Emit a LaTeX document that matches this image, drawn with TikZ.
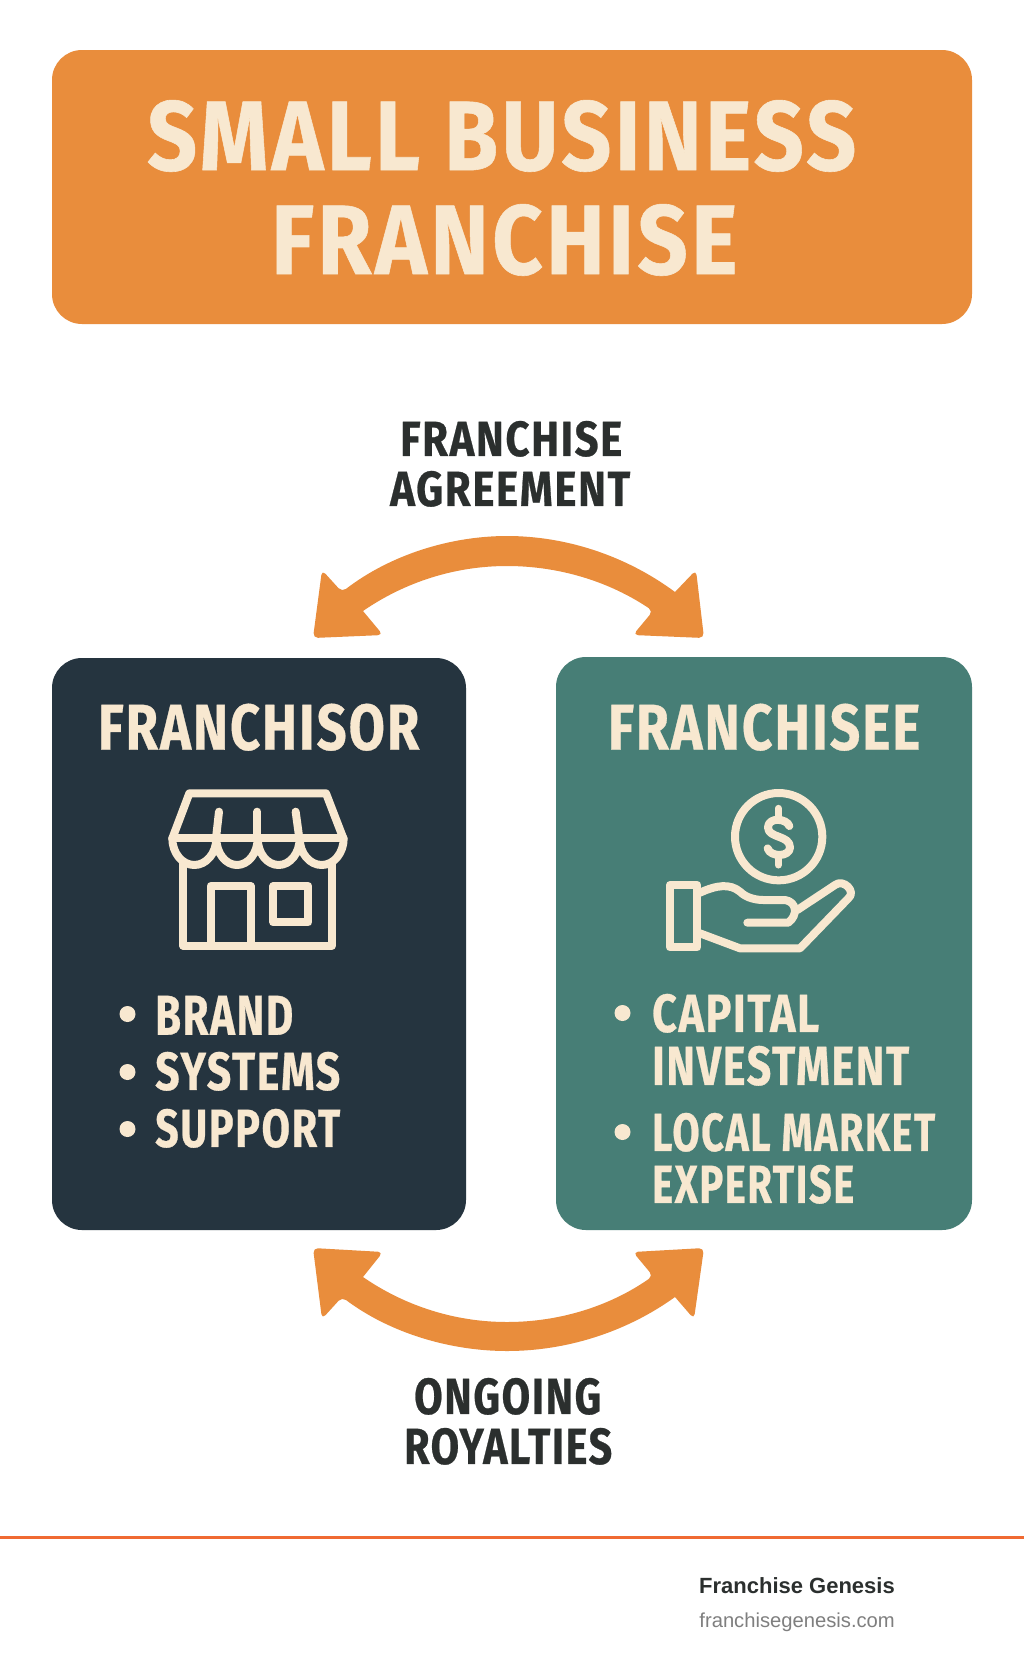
\documentclass[tikz,border=0pt]{standalone}
\usepackage{graphicx}
\usepackage{fontspec}
\setmainfont{Fira Sans}
\newfontfamily\footfont{Liberation Sans}
\definecolor{orangebox}{HTML}{E98D3C}
\definecolor{cream}{HTML}{F8E8D0}
\definecolor{navy}{HTML}{25343F}
\definecolor{teal2}{HTML}{477E76}
\definecolor{darktext}{HTML}{2B2F2E}
\definecolor{rulecol}{HTML}{F06A32}
\definecolor{footgray}{HTML}{7F7F7F}
\newcommand{\lbl}[7]{\node[anchor=south west,inner sep=0pt,text=#7] (#1) at (#2,#5) {\resizebox{\dimexpr#4pt-#2pt\relax}{\dimexpr#5pt-#3pt\relax}{\bfseries\addfontfeatures{LetterSpace=4,FakeBold=0.6}#6}};}
\tikzset{
  panel/.style={rounded corners=30pt,inner sep=0pt,text=white},
  iconline/.style={draw=cream,line width=8pt,line cap=round,line join=round},
  arrowshape/.style={fill=orangebox,rounded corners=5pt},
  bulletdot/.style={circle,fill=cream,minimum size=16pt,inner sep=0pt}
}
\begin{document}
\begin{tikzpicture}[x=1pt,y=-1pt]
\useasboundingbox[fill=white] (0,0) rectangle (1024,1666);
% boxes
\node[panel,fill=orangebox,minimum width=920pt,minimum height=274pt] (titlebox) at (512,187) {};
\node[panel,fill=navy,minimum width=414pt,minimum height=572pt] (franchisor) at (259,944) {};
\node[panel,fill=teal2,minimum width=416pt,minimum height=573pt] (franchisee) at (764,943.5) {};
% title
\lbl{t1}{147}{102}{856}{172}{SMALL BUSINESS}{cream}
\lbl{t2}{271}{206}{737}{276}{FRANCHISE}{cream}
% labels
\lbl{a1}{400}{422}{622}{457}{FRANCHISE}{darktext}
\lbl{a2}{390}{472}{630}{507}{AGREEMENT}{darktext}
\lbl{r1}{414}{1379}{601}{1415}{ONGOING}{darktext}
\lbl{r2}{404}{1429}{612}{1465}{ROYALTIES}{darktext}
% headers
\lbl{h1}{98}{705}{419}{751}{FRANCHISOR}{cream}
\lbl{h2}{608}{705}{920}{751}{FRANCHISEE}{cream}
% left list
\node[bulletdot] (b1) at (127.5,1014) {};
\node[bulletdot] (b2) at (127.5,1072) {};
\node[bulletdot] (b3) at (127.5,1129) {};
\lbl{l1}{155}{996}{293}{1035}{BRAND}{cream}
\lbl{l2}{155}{1053}{340}{1091}{SYSTEMS}{cream}
\lbl{l3}{155}{1110}{340}{1148}{SUPPORT}{cream}
% right list
\node[bulletdot] (b4) at (622.5,1013) {};
\node[bulletdot] (b5) at (622.5,1132) {};
\lbl{c1}{652}{995}{819}{1033}{CAPITAL}{cream}
\lbl{c2}{652}{1047}{909}{1086}{INVESTMENT}{cream}
\lbl{c3}{652}{1114}{935}{1152}{LOCAL MARKET}{cream}
\lbl{c4}{652}{1166}{854}{1204}{EXPERTISE}{cream}
% top arrow
\path[arrowshape] (313,638) -- (322,570) -- (342,592)
  [sharp corners] .. controls (390,555) and (450,536) .. (507,536)
  .. controls (565,536) and (625,555) .. (675,592)
  [rounded corners=5pt] -- (696,570) -- (704,638) -- (633,635) -- (653,611)
  [sharp corners] .. controls (610,582) and (560,566) .. (507,566)
  .. controls (455,566) and (405,582) .. (363,611)
  [rounded corners=5pt] -- (383,635) -- cycle;
% bottom arrow
\path[arrowshape] (313,1248) -- (322,1319) -- (342,1297)
  [sharp corners] .. controls (390,1333) and (450,1351) .. (507,1351)
  .. controls (565,1351) and (625,1333) .. (675,1297)
  [rounded corners=5pt] -- (694,1319) -- (704,1248) -- (633,1252) -- (653,1276)
  [sharp corners] .. controls (610,1306) and (560,1322) .. (507,1322)
  .. controls (455,1322) and (405,1306) .. (363,1277)
  [rounded corners=5pt] -- (383,1252) -- cycle;
% store icon
\begin{scope}[shift={(140,760)},x=1/3*1pt,y=-1/3*1pt]
\draw[iconline] (97,235) -- (148,100) -- (558,100) -- (610,235);
\draw[iconline] (97,235) -- (610,235);
\draw[iconline] (97,235) arc[start angle=180,end angle=0,x radius=66,y radius=80]
  arc[start angle=180,end angle=0,x radius=62,y radius=80]
  arc[start angle=180,end angle=0,x radius=63,y radius=80]
  arc[start angle=180,end angle=0,x radius=66,y radius=80];
\draw[iconline] (228,235) -- (237,155);
\draw[iconline] (352,235) -- (352,155);
\draw[iconline] (478,235) -- (467,155);
\draw[iconline] (130,310) -- (130,557) -- (575,557) -- (575,310);
\draw[iconline] (212,557) -- (212,378) -- (332,378) -- (332,557);
\draw[iconline] (400,378) rectangle (505,487);
\end{scope}
% hand icon
\begin{scope}[shift={(640,770)},x=1/3*1pt,y=-1/3*1pt]
\draw[iconline] (416,200) circle[radius=131*1pt/3];
\draw[iconline,line width=8pt] (448,168) .. controls (440,145) and (385,140) .. (384,172)
  .. controls (384,205) and (450,195) .. (450,232)
  .. controls (450,262) and (390,262) .. (383,235);
\draw[iconline,line width=7pt] (415,115) -- (415,145);
\draw[iconline,line width=7pt] (415,255) -- (415,285);
\draw[iconline] (90,345) rectangle (172,532);
\draw[iconline] (180,368) .. controls (230,345) and (270,340) .. (300,365)
  .. controls (320,385) and (350,390) .. (370,390) -- (435,390)
  .. controls (470,395) and (475,435) .. (445,458) -- (322,458);
\draw[iconline] (472,420) -- (585,345) .. controls (610,325) and (650,365) .. (625,385)
  -- (480,535) -- (300,535) -- (180,490);
\end{scope}
% footer
\coordinate (ruleL) at (0,1537);
\coordinate (ruleR) at (1024,1537);
\draw[rulecol,line width=3pt] (ruleL) -- (ruleR);
\node[anchor=base east,inner sep=0pt,text=darktext] (f1) at (895,1593) {\footfont\fontsize{22}{27}\selectfont\bfseries Franchise Genesis};
\node[anchor=base east,inner sep=0pt,text=footgray] (f2) at (895,1627) {\footfont\fontsize{20.2}{25}\selectfont franchisegenesis.com};
\end{tikzpicture}
\end{document}
